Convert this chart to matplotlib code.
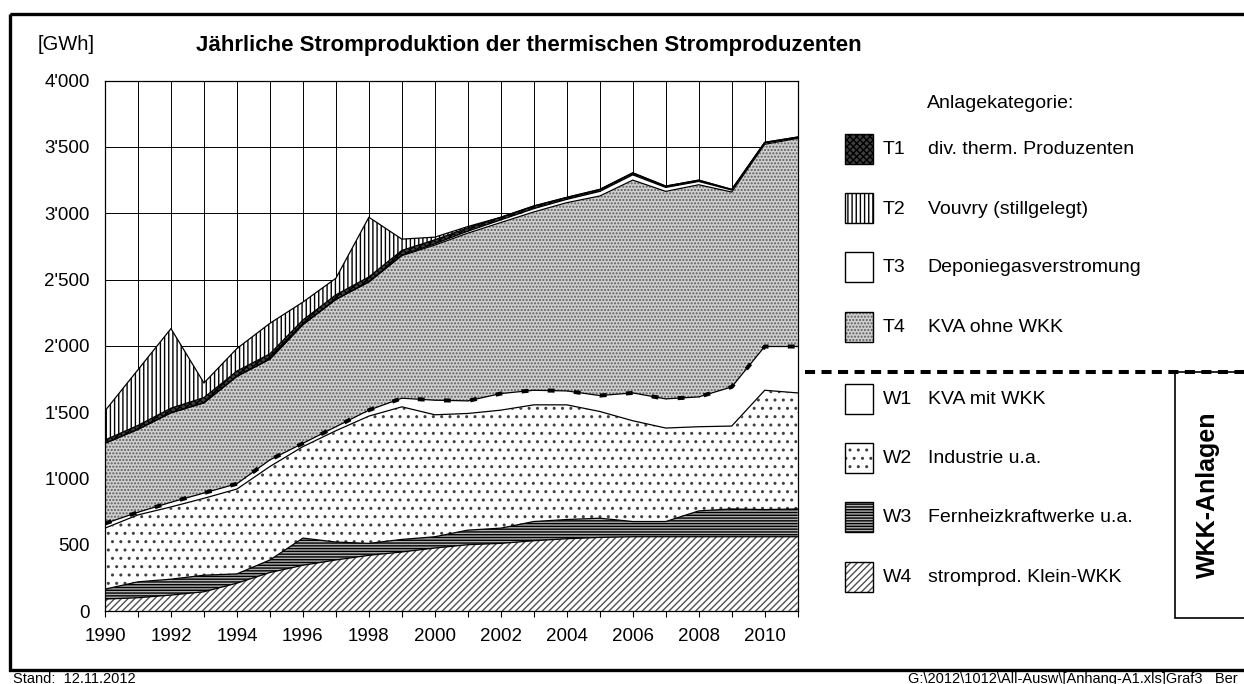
import matplotlib
matplotlib.use('Agg')
import matplotlib.pyplot as plt
import numpy as np
from matplotlib.patches import Rectangle
from matplotlib.ticker import FuncFormatter, MultipleLocator
from matplotlib.lines import Line2D

plt.rcParams['font.family'] = ['Liberation Sans', 'DejaVu Sans']
plt.rcParams['hatch.linewidth'] = 1.0

# ---------------- data (GWh) ----------------
years = list(range(1990, 2012))
w4_klein_wkk = [90, 100, 120, 145, 210, 290, 345, 385, 420, 445, 475, 500, 510, 530, 545, 555, 560, 560, 560, 560, 560, 560]
w3_fernheiz = [75, 120, 120, 125, 70, 95, 205, 135, 90, 95, 85, 110, 115, 145, 145, 145, 115, 115, 195, 210, 205, 210]
w2_industrie = [460, 505, 545, 580, 640, 705, 690, 840, 960, 1000, 920, 880, 890, 880, 865, 805, 760, 705, 635, 625, 900, 875]
w1_kva_mit = [35, 20, 35, 40, 40, 50, 25, 30, 45, 65, 110, 95, 125, 110, 105, 120, 210, 220, 225, 295, 330, 350]
t4_kva_ohne = [605, 625, 675, 680, 810, 760, 895, 960, 965, 1075, 1170, 1265, 1290, 1345, 1420, 1505, 1605, 1565, 1600, 1470, 1525, 1570]
t3_deponie = [0, 0, 0, 0, 0, 0, 0, 0, 5, 5, 10, 15, 20, 25, 25, 35, 40, 30, 25, 15, 10, 5]
t1_div = [25, 30, 35, 40, 40, 40, 35, 35, 35, 35, 30, 25, 20, 20, 15, 15, 15, 10, 10, 5, 5, 5]
t2_vouvry = [220, 420, 600, 110, 170, 230, 135, 125, 450, 85, 20, 10, 0, 0, 0, 0, 0, 0, 0, 0, 0, 0]

codes = ['T1', 'T2', 'T3', 'T4', 'W1', 'W2', 'W3', 'W4']
names = ['div. therm. Produzenten', 'Vouvry (stillgelegt)', 'Deponiegasverstromung',
         'KVA ohne WKK', 'KVA mit WKK', 'Industrie u.a.', 'Fernheizkraftwerke u.a.',
         'stromprod. Klein-WKK']

# styles: facecolor, hatch colour, hatch
style = {
    'W4': ('white', '#505050', '/////'),
    'W3': ('#b0b0b0', 'black', '------'),
    'W2': ('white', '#404040', '..'),
    'W1': ('white', 'white', None),
    'T4': ('#d0d0d0', '#5a5a5a', '.....'),
    'T3': ('white', 'white', None),
    'T1': ('#404040', 'black', 'xxxxx'),
    'T2': ('white', 'black', '||||'),
}
stack = [('W4', w4_klein_wkk), ('W3', w3_fernheiz), ('W2', w2_industrie), ('W1', w1_kva_mit),
         ('T4', t4_kva_ohne), ('T3', t3_deponie), ('T1', t1_div), ('T2', t2_vouvry)]

W, H = 1244, 684
fig = plt.figure(figsize=(W / 100, H / 100), dpi=100)
ax = fig.add_axes([105 / W, 1 - 611 / H, (797.7 - 105) / W, (611 - 80.7) / H])

x = np.array(years)
cum = np.zeros(len(years))
tops = {}
for key, vals in stack:
    fc, hc, h = style[key]
    top = cum + np.array(vals)
    ax.fill_between(x, cum, top, facecolor=fc, edgecolor=hc, hatch=h, linewidth=0, zorder=2)
    tops[key] = top
    cum = top
for key, _ in stack:
    ax.plot(x, tops[key], color='black', lw=0.9, zorder=3)
# dashed boundary between WKK and thermal plants
ax.plot(x, tops['W1'], color='black', lw=2.9, dashes=(1.7, 4.8), zorder=4, solid_capstyle='butt')

ax.set_xlim(1990, 2011)
ax.set_ylim(0, 4000)
ax.xaxis.set_major_locator(MultipleLocator(2))
ax.xaxis.set_minor_locator(MultipleLocator(1))
ax.yaxis.set_major_locator(MultipleLocator(500))
ax.yaxis.set_major_formatter(FuncFormatter(lambda v, _: f"{int(v):,}".replace(',', "'")))
ax.tick_params(axis='x', which='both', direction='out', length=4, width=0.8, pad=8, labelsize=13.5)
ax.tick_params(axis='y', length=0, pad=11, labelsize=13.5)
ax.grid(True, which='both', axis='x', color='black', lw=0.7, zorder=1)
ax.grid(True, which='major', axis='y', color='black', lw=0.7, zorder=1)
ax.set_axisbelow(True)
for s in ax.spines.values():
    s.set_color('black')
    s.set_linewidth(0.9)
    s.set_zorder(5)

# ---------------- overlay (legend, frame, texts) ----------------
ov = fig.add_axes([0, 0, 1, 1], facecolor='none', zorder=6)
ov.set_xlim(0, W)
ov.set_ylim(H, 0)
ov.axis('off')

ov.add_patch(Rectangle((9.5, 13.5), 1260, 656, fill=False, edgecolor='black', lw=2.4, clip_on=False))
ov.text(38, 45, '[GWh]', fontsize=14.5, va='center', ha='left')
ov.text(196, 45, 'Jährliche Stromproduktion der thermischen Stromproduzenten',
        fontsize=16, fontweight='bold', va='center', ha='left')

ov.text(927, 103, 'Anlagekategorie:', fontsize=14, va='center', ha='left')
row_y = [148.5, 208, 267, 326.5, 398.5, 457.5, 516.5, 576.5]
leg_keys = ['T1', 'T2', 'T3', 'T4', 'W1', 'W2', 'W3', 'W4']
for key, code, name, yc in zip(leg_keys, codes, names, row_y):
    fc, hc, h = style[key]
    ov.add_patch(Rectangle((844.5, yc - 15), 28, 30, facecolor=fc, edgecolor=hc, hatch=h, lw=0))
    ov.add_patch(Rectangle((844.5, yc - 15), 28, 30, fill=False, edgecolor='black', lw=1.0))
    ov.text(882.5, yc + 1, code, fontsize=14, va='center', ha='left')
    ov.text(927.5, yc + 1, name, fontsize=14, va='center', ha='left')

ov.add_line(Line2D([805, 1250], [372, 372], color='black', lw=2.9, dashes=(2.5, 1.6)))
ov.add_patch(Rectangle((1175, 372), 100, 246, facecolor='white', edgecolor='black', lw=1.2, clip_on=False))
ov.text(1208, 495, 'WKK-Anlagen', fontsize=18, fontweight='bold', rotation=90, va='center', ha='center')

ov.text(13, 679, 'Stand:  12.11.2012', fontsize=10.5, va='center', ha='left')
ov.text(908, 679, 'G:\\2012\\1012\\All-Ausw\\[Anhang-A1.xls]Graf3   Ber', fontsize=10.5, va='center', ha='left')

fig.savefig('out.png', dpi=100)
